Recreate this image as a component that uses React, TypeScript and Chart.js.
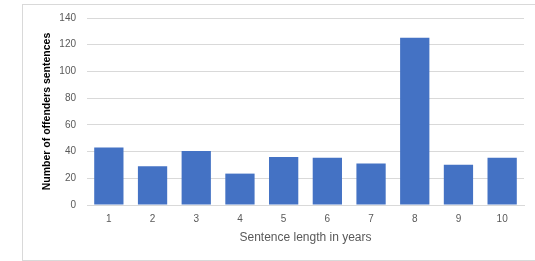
import React, { useEffect, useRef } from "react";
import { Chart, registerables } from "chart.js";

Chart.register(...registerables);

const categories = ["1", "2", "3", "4", "5", "6", "7", "8", "9", "10"];
const offenders = [43, 29, 40.5, 23.5, 36, 35.3, 31, 125.3, 30.2, 35.3];
const yTicks = [0, 20, 40, 60, 80, 100, 120, 140];
const xTitle = "Sentence length in years";
const yTitle = "Number of offenders sentences";

export default function App() {
  const ref = useRef<HTMLCanvasElement | null>(null);
  useEffect(() => {
    if (!ref.current) return;
    const font = "'Liberation Sans', Arial, sans-serif";
    const chart = new Chart(ref.current, {
      type: "bar",
      data: {
        labels: categories,
        datasets: [
          {
            data: offenders,
            backgroundColor: "#4472C4",
            categoryPercentage: 1,
            barPercentage: 0.67,
          },
        ],
      },
      options: {
        animation: false,
        responsive: false,
        maintainAspectRatio: false,
        layout: { padding: { top: 13, right: 11, bottom: 14, left: 18 } },
        plugins: { legend: { display: false }, tooltip: { enabled: false } },
        scales: {
          x: {
            afterFit: (s: any) => {
              s.height = 40;
              s.paddingLeft = 0;
              s.paddingRight = 0;
            },
            grid: { display: false, drawTicks: false },
            border: { display: true, color: "#d9d9d9" },
            ticks: { color: "#595959", font: { family: font, size: 10 }, padding: 8 },
            title: {
              display: true,
              text: xTitle,
              color: "#595959",
              font: { family: font, size: 12 },
              padding: { top: 0, bottom: 0 },
            },
          },
          y: {
            min: 0,
            max: 140,
            afterFit: (s: any) => {
              s.width = 46;
              s.paddingTop = 0;
              s.paddingBottom = 0;
            },
            afterBuildTicks: (s: any) => {
              s.ticks = yTicks.map((v) => ({ value: v }));
            },
            grid: { color: "#d9d9d9", lineWidth: 1, drawTicks: false },
            border: { display: false },
            ticks: { color: "#595959", font: { family: font, size: 10 }, padding: 11 },
            title: {
              display: true,
              text: yTitle,
              color: "#000000",
              font: { family: font, size: 10.5, weight: "bold" },
              padding: { top: 0, bottom: 0 },
            },
          },
        },
      },
    });
    return () => chart.destroy();
  }, []);
  return (
    <div
      style={{
        position: "fixed",
        left: 22,
        top: 4,
        width: 540,
        height: 255,
        border: "1px solid #d9d9d9",
        background: "#fff",
      }}
    >
      <canvas ref={ref} width={512} height={254} style={{ display: "block" }} />
    </div>
  );
}
